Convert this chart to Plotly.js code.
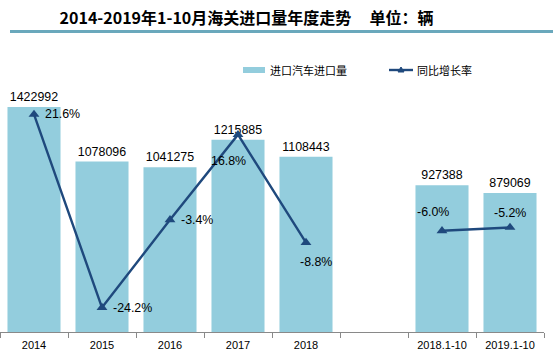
<!DOCTYPE html>
<html>
<head>
<meta charset="utf-8">
<script src="https://cdn.plot.ly/plotly-3.0.1.min.js"></script>
<style>html,body{margin:0;padding:0;background:#fff;}#chart{width:553px;height:353px;}</style>
</head>
<body>
<div id="chart"></div>
<script>
// ---- data ----
const categories = ['2014', '2015', '2016', '2017', '2018', ' ', '2018.1-10', '2019.1-10'];
const imports = [1422992, 1078096, 1041275, 1215885, 1108443, null, 927388, 879069];
const growth = [21.6, -24.2, -3.4, 16.8, -8.8, null, -6.0, -5.2];
const seriesNames = ['进口汽车进口量', '同比增长率'];
const titleText = '2014-2019年1-10月海关进口量年度走势\u00A0\u00A0\u00A0\u00A0\u00A0单位：辆';

// label offsets (pixels) for growth labels
const labelShift = [[28, 0], [30, 0], [27, 0], [-10, -26], [10, -19], null, [-9, 19], [0, 14]];

const W = 553, H = 353;
const M = {l: 0, r: 9, t: 79, b: 21};
const PW = W - M.l - M.r, PH = H - M.t - M.b;
const px = x => (x - M.l) / PW;
const py = y => (H - M.b - y) / PH;

const barColor = '#93CDDD';
const lineColor = '#1F497D';
const numFont = 'Arial, "Liberation Sans", sans-serif';
const cjkFont = '"Noto Sans CJK SC", "Microsoft YaHei", sans-serif';

const bars = {
  type: 'bar', x: categories, y: imports, name: seriesNames[0],
  marker: {color: barColor}, width: 0.78,
  text: imports.map(v => v == null ? '' : String(v)),
  textposition: 'outside', cliponaxis: false,
  textfont: {family: numFont, size: 12.4, color: '#000'},
  hoverinfo: 'skip'
};
const line = {
  type: 'scatter', mode: 'lines+markers', x: categories, y: growth, yaxis: 'y2',
  name: seriesNames[1], connectgaps: false,
  line: {color: lineColor, width: 2.4},
  marker: {symbol: 'triangle-up', size: 9.5, color: lineColor},
  cliponaxis: false, hoverinfo: 'skip'
};

const annotations = [];
growth.forEach((v, i) => {
  if (v == null) return;
  annotations.push({
    x: i, y: v, xref: 'x', yref: 'y2',   // category index
    text: v.toFixed(1) + '%', showarrow: false,
    xshift: labelShift[i][0], yshift: labelShift[i][1],
    font: {family: numFont, size: 12.4, color: '#000'}
  });
});
// legend text
annotations.push({xref: 'paper', yref: 'paper', x: px(268), y: py(70), xanchor: 'left', yanchor: 'middle',
  text: seriesNames[0], showarrow: false, font: {family: cjkFont, size: 11, color: '#000'}});
annotations.push({xref: 'paper', yref: 'paper', x: px(415), y: py(70), xanchor: 'left', yanchor: 'middle',
  text: seriesNames[1], showarrow: false, font: {family: cjkFont, size: 11, color: '#000'}});

const shapes = [
  // rule under title
  {type: 'line', xref: 'paper', yref: 'paper', x0: px(10), x1: px(553), y0: py(31.5), y1: py(31.5),
    line: {color: '#6AA8BC', width: 3.2}},
  // legend bar swatch
  {type: 'rect', xref: 'paper', yref: 'paper', x0: px(243), x1: px(265), y0: py(73), y1: py(67),
    fillcolor: barColor, line: {width: 0}},
  // legend line
  {type: 'line', xref: 'paper', yref: 'paper', x0: px(389), x1: px(413), y0: py(70), y1: py(70),
    line: {color: lineColor, width: 2.4}},
  // legend marker
  {type: 'path', xref: 'paper', yref: 'paper',
    path: `M ${px(398)} ${py(72)} L ${px(404)} ${py(72)} L ${px(401)} ${py(67)} Z`,
    fillcolor: lineColor, line: {color: lineColor, width: 1}}
];

const layout = {
  width: W, height: H,
  margin: M,
  paper_bgcolor: '#fff', plot_bgcolor: '#fff',
  showlegend: false,
  title: {
    text: '<b>' + titleText + '</b>',
    xref: 'container', yref: 'container',
    x: 246.5 / W, xanchor: 'center', y: 1 - 18 / H, yanchor: 'middle',
    font: {family: cjkFont, size: 16, color: '#000'}
  },
  xaxis: {
    type: 'category', categoryorder: 'array', categoryarray: categories,
    range: [-0.5, categories.length - 0.5],
    tickson: 'boundaries', ticks: 'outside', ticklen: 5, tickcolor: '#898989', tickwidth: 1,
    ticklabelstandoff: 3,
    showline: true, linecolor: '#898989', linewidth: 1,
    showgrid: false, zeroline: false, tickangle: 0,
    tickfont: {family: numFont, size: 11, color: '#000'},
    fixedrange: true
  },
  yaxis: {range: [0, 1600000], visible: false, showgrid: false, zeroline: false, fixedrange: true},
  yaxis2: {range: [-30, 30], overlaying: 'y', side: 'right', visible: false, showgrid: false, zeroline: false, fixedrange: true},
  bargap: 0.22,
  annotations: annotations,
  shapes: shapes
};

Plotly.newPlot('chart', [bars, line], layout, {staticPlot: true, displayModeBar: false});
</script>
</body>
</html>
